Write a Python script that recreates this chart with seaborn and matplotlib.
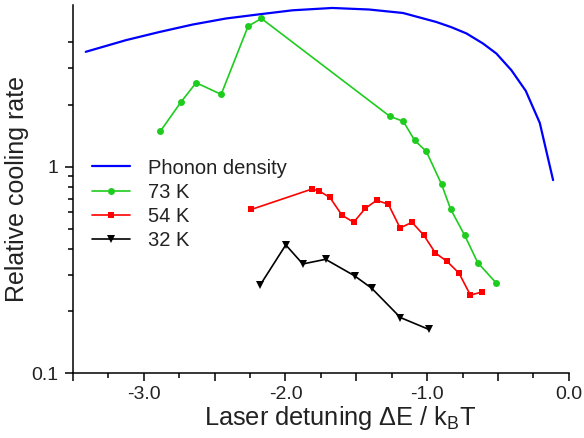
import matplotlib
matplotlib.use("Agg")
import matplotlib.pyplot as plt
import matplotlib.ticker as mticker
import seaborn as sns

# phonon density curve
phonon_x = [-3.41, -3.126, -2.89, -2.655, -2.42, -2.184, -1.95, -1.67, -1.41,
            -1.17, -0.935, -0.83, -0.723, -0.606, -0.511, -0.405, -0.304, -0.205, -0.111]
phonon_y = [3.60, 4.10, 4.49, 4.88, 5.22, 5.47, 5.72, 5.87, 5.77,
            5.55, 5.02, 4.74, 4.42, 3.95, 3.53, 2.93, 2.33, 1.63, 0.861]

# 73 K
k73_x = [-2.883, -2.737, -2.631, -2.454, -2.264, -2.170, -1.265, -1.168, -1.088,
         -1.006, -0.898, -0.834, -0.735, -0.643, -0.514]
k73_y = [1.486, 2.06, 2.55, 2.24, 4.79, 5.22, 1.757, 1.656, 1.34,
         1.186, 0.821, 0.622, 0.465, 0.343, 0.274]

# 54 K
k54_x = [-2.240, -1.814, -1.765, -1.687, -1.602, -1.519, -1.437, -1.357, -1.274,
         -1.191, -1.107, -1.023, -0.942, -0.860, -0.775, -0.695, -0.613]
k54_y = [0.621, 0.779, 0.764, 0.710, 0.583, 0.538, 0.628, 0.687, 0.658,
         0.505, 0.538, 0.465, 0.382, 0.348, 0.305, 0.239, 0.247]

# 32 K
k32_x = [-2.179, -1.998, -1.878, -1.717, -1.512, -1.392, -1.189, -0.989]
k32_y = [0.267, 0.418, 0.338, 0.356, 0.296, 0.258, 0.186, 0.163]

sns.set_style("ticks")
plt.rcParams["font.family"] = ["Liberation Sans", "DejaVu Sans"]
plt.rcParams["mathtext.fontset"] = "custom"
plt.rcParams["mathtext.rm"] = "Liberation Sans"
text_c = "#222222"

fig = plt.figure(figsize=(5.84, 4.38), dpi=100)
ax = fig.add_axes([0.125, 0.148, 0.849, 0.841])

sns.lineplot(x=phonon_x, y=phonon_y, color="#0000ff", lw=1.6, sort=False,
             label="Phonon density", ax=ax)
sns.lineplot(x=k73_x, y=k73_y, color="#1ecc1e", lw=1.2, marker="o", markersize=5,
             markeredgewidth=0, sort=False, label="73 K", ax=ax)
sns.lineplot(x=k54_x, y=k54_y, color="#ff0000", lw=1.2, marker="s", markersize=5,
             markeredgewidth=0, sort=False, label="54 K", ax=ax)
sns.lineplot(x=k32_x, y=k32_y, color="black", lw=1.2, marker="v", markersize=5.5,
             markeredgewidth=0, sort=False, label="32 K", ax=ax)

ax.set_yscale("log")
ax.set_xlim(-3.5, 0.0)
ax.set_ylim(0.1, 6.08)

ax.xaxis.set_major_locator(mticker.MultipleLocator(0.5))
ax.xaxis.set_minor_locator(mticker.MultipleLocator(0.25))
ax.xaxis.set_major_formatter(mticker.FuncFormatter(
    lambda v, p: f"{v:.1f}" if abs(v - round(v)) < 1e-6 else ""))
ax.yaxis.set_major_locator(mticker.FixedLocator([0.1, 1]))
ax.yaxis.set_major_formatter(mticker.FixedFormatter(["0.1", "1"]))
ax.yaxis.set_minor_locator(mticker.FixedLocator(
    [0.2, 0.3, 0.4, 0.5, 0.6, 0.7, 0.8, 0.9, 2, 3, 4]))
ax.yaxis.set_minor_formatter(mticker.NullFormatter())

ax.tick_params(which="major", direction="out", length=6, width=1.1,
               labelsize=14, labelcolor=text_c, color="black")
ax.tick_params(which="minor", direction="out", length=3.5, width=1.1, color="black")
ax.tick_params(axis="x", which="major", pad=3)
ax.tick_params(axis="y", which="major", pad=4.8)
for s in ["top", "right"]:
    ax.spines[s].set_visible(False)
for s in ["left", "bottom"]:
    ax.spines[s].set_linewidth(1.1)
    ax.spines[s].set_color("black")

ax.set_xlabel(r"Laser detuning ΔE / k$_{\mathregular{B}}$T", fontsize=18.3, color=text_c,
              labelpad=0.5)
ax.xaxis.set_label_coords(0.538, -0.085)
ax.set_ylabel("Relative cooling rate", fontsize=18, color=text_c, labelpad=1)

leg = ax.legend(loc="center left", bbox_to_anchor=(0.038, 0.459), frameon=False,
                fontsize=14.5, handlelength=1.9, handletextpad=0.9,
                borderpad=0, borderaxespad=0, labelspacing=0.25)
for t in leg.get_texts():
    t.set_color(text_c)

fig.savefig("out.png", dpi=100)
plt.close(fig)
